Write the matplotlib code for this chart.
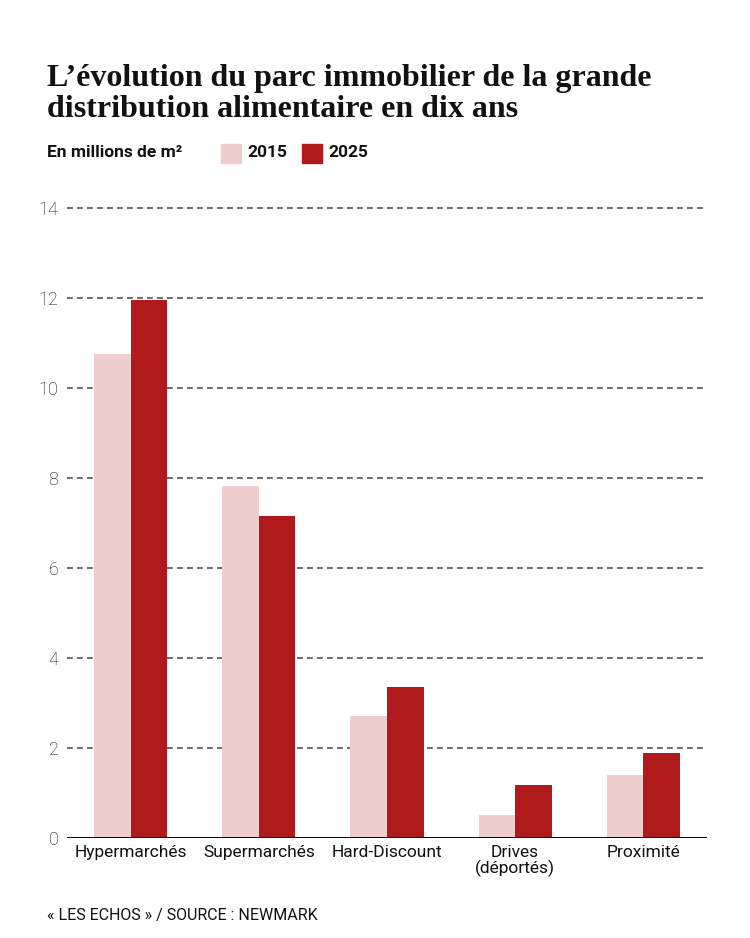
import matplotlib.pyplot as plt
import numpy as np

# --- données (millions de m²) ---
categories = ["Hypermarchés", "Supermarchés", "Hard-Discount", "Drives\n(déportés)", "Proximité"]
valeurs_2015 = [10.75, 7.82, 2.71, 0.51, 1.41]
valeurs_2025 = [11.95, 7.16, 3.36, 1.17, 1.90]
annees = ["2015", "2025"]
y_ticks = [0, 2, 4, 6, 8, 10, 12, 14]

ROSE = '#f0cdcd'
ROUGE = '#b01a1c'

plt.rcParams['font.family'] = ['Roboto', 'DejaVu Sans']

fig = plt.figure(figsize=(7.5, 9.38), dpi=100)
ax = fig.add_axes([0.089, 0.1066, 0.854, 0.6716])

x = np.arange(len(categories))
w = 0.285
ax.bar(x - w / 2, valeurs_2015, width=w, color=ROSE, zorder=2)
ax.bar(x + w / 2, valeurs_2025, width=w, color=ROUGE, zorder=2)

ax.set_xlim(-0.5, 4.5)
ax.set_ylim(0, 14)
ax.set_yticks(y_ticks)
ax.set_yticklabels([str(t) for t in y_ticks], fontsize=13, fontweight='light', color='#111111')
ax.set_xticks(x)
ax.set_xticklabels(categories, fontsize=12.5, color='#111111', linespacing=0.95)
ax.tick_params(axis='y', length=0, pad=6)
ax.tick_params(axis='x', length=0, pad=5)

for t in y_ticks[1:]:
    ax.axhline(t, color='#555555', linewidth=1.2, linestyle=(0, (3.5, 2.5)), zorder=1, clip_on=False)
ax.axhline(0, color='#111111', linewidth=2.2, zorder=3)

for s in ['top', 'right', 'left', 'bottom']:
    ax.spines[s].set_visible(False)

# titre
fig.text(0.063, 0.932, "L’évolution du parc immobilier de la grande\ndistribution alimentaire en dix ans",
         fontsize=23, fontweight='bold', family=['Liberation Serif', 'DejaVu Serif'],
         va='top', ha='left', linespacing=1.08, color='#111111')

# sous-titre + légende
fig.text(0.063, 0.837, "En millions de m²", fontsize=12.5, fontweight='bold', va='center', ha='left', color='#111111')
for px, couleur, lab in [(0.295, ROSE, annees[0]), (0.403, ROUGE, annees[1])]:
    fig.patches.append(plt.Rectangle((px, 0.826), 0.026, 0.021, color=couleur, transform=fig.transFigure, figure=fig))
    fig.text(px + 0.035, 0.837, lab, fontsize=12.5, fontweight='bold', va='center', ha='left', color='#111111')

# source
fig.text(0.063, 0.024, "« LES ECHOS » / SOURCE : NEWMARK", fontsize=11.5, va='center', ha='left', color='#111111')

plt.savefig('out.png', dpi=100)
